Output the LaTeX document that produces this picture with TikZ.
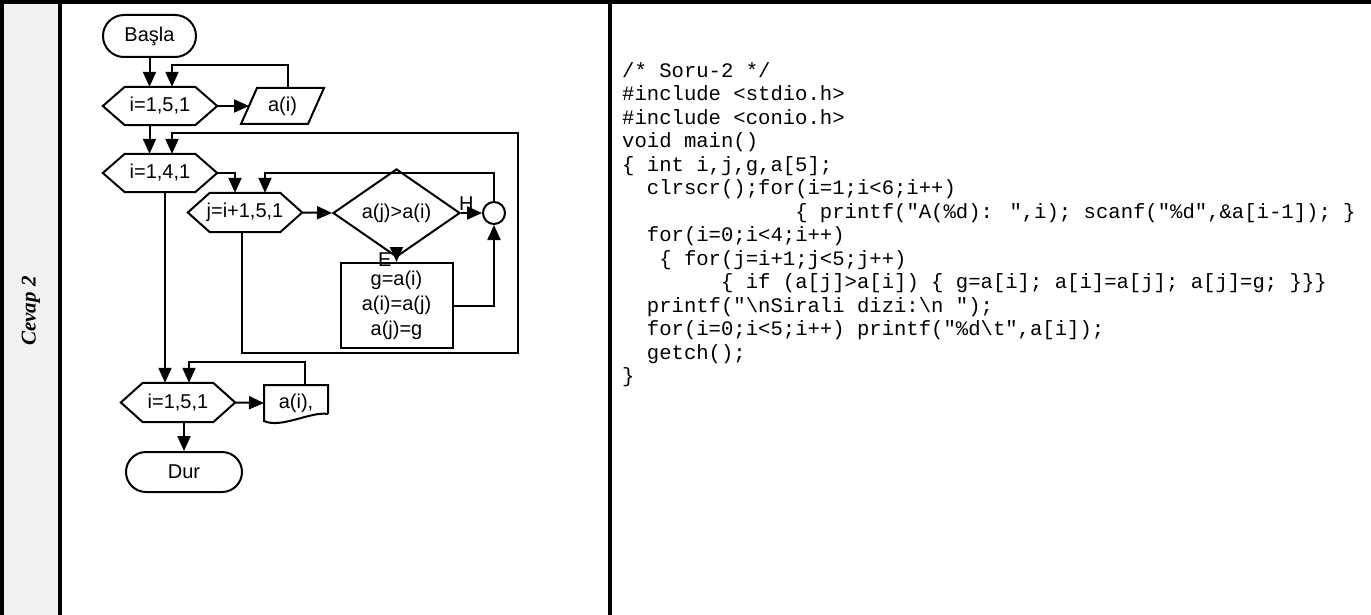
\documentclass[tikz,border=0pt]{standalone}
\usepackage{fontspec}
\setmainfont{Liberation Sans}
\newfontfamily\codefont{Liberation Mono}
\newfontfamily\tagfont{Liberation Serif}
\usetikzlibrary{arrows.meta,shapes.geometric}

\tikzset{
  line/.style={line width=2pt},
  flow/.style={line, -{Triangle[length=15pt,width=13pt]}},
  frame/.style={line width=3.5pt},
  box/.style={draw, line width=2pt, inner sep=0pt, font=\fontsize{20}{25}\selectfont},
  term/.style={box, rounded corners=20pt},
  hexbox/.style={inner sep=0pt, minimum width=114pt, minimum height=38pt,
    font=\fontsize{20}{25}\selectfont},
  lbl/.style={font=\fontsize{20}{25}\selectfont},
  tagtext/.style={font=\tagfont\bfseries\itshape\fontsize{21}{21}\selectfont},
  code/.style={inner sep=0pt, align=left, font=\codefont\fontsize{20.6}{23.5}\selectfont}
}

\begin{document}
\begin{tikzpicture}[x=1pt,y=-1pt]
\useasboundingbox (0,0) rectangle (1371,615);
% table frame
\fill[gray!10] (2,2) rectangle (60,615);
\draw[frame] (0,2) -- (1371,2);
\draw[frame] (2,0) -- (2,615);
\draw[frame] (60,2) -- (60,615);
\draw[frame] (610,2) -- (610,615);
\node[tagtext, rotate=90] (tag) at (31,311) {Cevap 2};

% flowchart nodes
\node[term, minimum width=93pt, minimum height=42pt, rounded corners=21pt] (start) at (149.5,36) {Başla};
\node[hexbox] (loopin) at (160,106) {i=1,5,1};
\node[box, draw=none, minimum width=65pt, minimum height=34pt] (readin) at (282.5,106) {a(i)};
\node[hexbox] (loopi) at (160,173) {i=1,4,1};
\node[hexbox, minimum height=39pt] (loopj) at (245,212.5) {j=i+1,5,1};
\node[box, shape=diamond, minimum width=127pt, minimum height=58pt] (cond) at (396.5,213) {a(j)>a(i)};
\node[box, circle, minimum size=22pt] (join) at (494,213) {};
\node[box, minimum width=112pt, minimum height=85pt, align=center] (swap) at (396.5,305.5) {g=a(i)\\a(i)=a(j)\\a(j)=g};
\node[hexbox, minimum height=39pt] (loopout) at (178,402.5) {i=1,5,1};
\node[box, draw=none, minimum width=62pt, minimum height=34pt] (printout) at (296,403) {a(i),};
\node[term, minimum width=116pt, minimum height=40pt] (stop) at (184,472) {Dur};

% outlines of loop, input and output boxes
\foreach \n in {loopin,loopi,loopj,loopout}
  \draw[line, line join=miter] (\n.west) -- ([xshift=22pt]\n.north west) -- ([xshift=-22pt]\n.north east)
    -- (\n.east) -- ([xshift=-22pt]\n.south east) -- ([xshift=22pt]\n.south west) -- cycle;
\draw[line] ([xshift=-8pt]readin.south west) -- ([xshift=8pt]readin.north west)
  -- ([xshift=8pt]readin.north east) -- ([xshift=-8pt]readin.south east) -- cycle;
\draw[line] ([yshift=7pt]printout.south east) -- (printout.north east) -- (printout.north west)
  -- (printout.south west) .. controls ([xshift=17pt,yshift=-8pt]printout.south west)
  and ([xshift=-17pt,yshift=10pt]printout.south east) .. ([yshift=7pt]printout.south east);

% bends of the back lines
\coordinate (backa) at (172,65);
\coordinate (outr) at (518,353);
\coordinate (outl) at (172,133);
\coordinate (innl) at (265,173);
\coordinate (backc) at (189,362);

% connectors
\draw[flow] (start.south) -- (start.south |- loopin.north);
\draw[flow] (loopin.east) -- (readin.west);
\draw[flow] ([xshift=5.5pt]readin.north) |- (backa) -- (backa |- loopin.north);
\draw[flow] (loopin.south -| start.south) -- (loopi.north -| start.south);
\draw[flow] (loopi.east) -| ([xshift=-10pt]loopj.north);
\draw[flow] ([xshift=-3pt]loopj.south) |- (outr) |- (outl) -- (outl |- loopi.north);
\draw[flow] (loopj.east) -- (cond.west);
\draw[flow] (cond.east) -- node[pos=0.25, above, inner sep=2pt, lbl] {H} (join.west);
\draw[flow] (cond.south) -- node[pos=0.5, left, inner sep=4pt, lbl] {E} (swap.north);
\draw[flow] (swap.east) -| (join.south);
\draw[flow] (join.north) |- (innl) -- (innl |- loopj.north);
\draw[flow] ([xshift=5pt]loopi.south) -- ([xshift=5pt]loopi.south |- loopout.north);
\draw[flow] ([xshift=9pt]printout.north) |- (backc) -- (backc |- loopout.north);
\draw[flow] (loopout.east) -- (printout.west);
\draw[flow] (stop.north |- loopout.south) -- (stop.north);

% program text
\node[code, anchor=north west] (src) at (622,62) {%
/* Soru-2 */\\
\#include <stdio.h>\\
\#include <conio.h>\\
void main()\\
\{ int i,j,g,a[5];\\
~~clrscr();for(i=1;i<6;i++)\\
~~~~~~~~~~~~~~\{ printf("A(\%d): ",i); scanf("\%d",\&a[i-1]); \}\\
~~for(i=0;i<4;i++)\\
~~~\{ for(j=i+1;j<5;j++)\\
~~~~~~~~\{ if (a[j]>a[i]) \{ g=a[i]; a[i]=a[j]; a[j]=g; \}\}\}\\
~~printf("\textbackslash nSirali dizi:\textbackslash n ");\\
~~for(i=0;i<5;i++) printf("\%d\textbackslash t",a[i]);\\
~~getch();\\
\}};
\end{tikzpicture}
\end{document}
